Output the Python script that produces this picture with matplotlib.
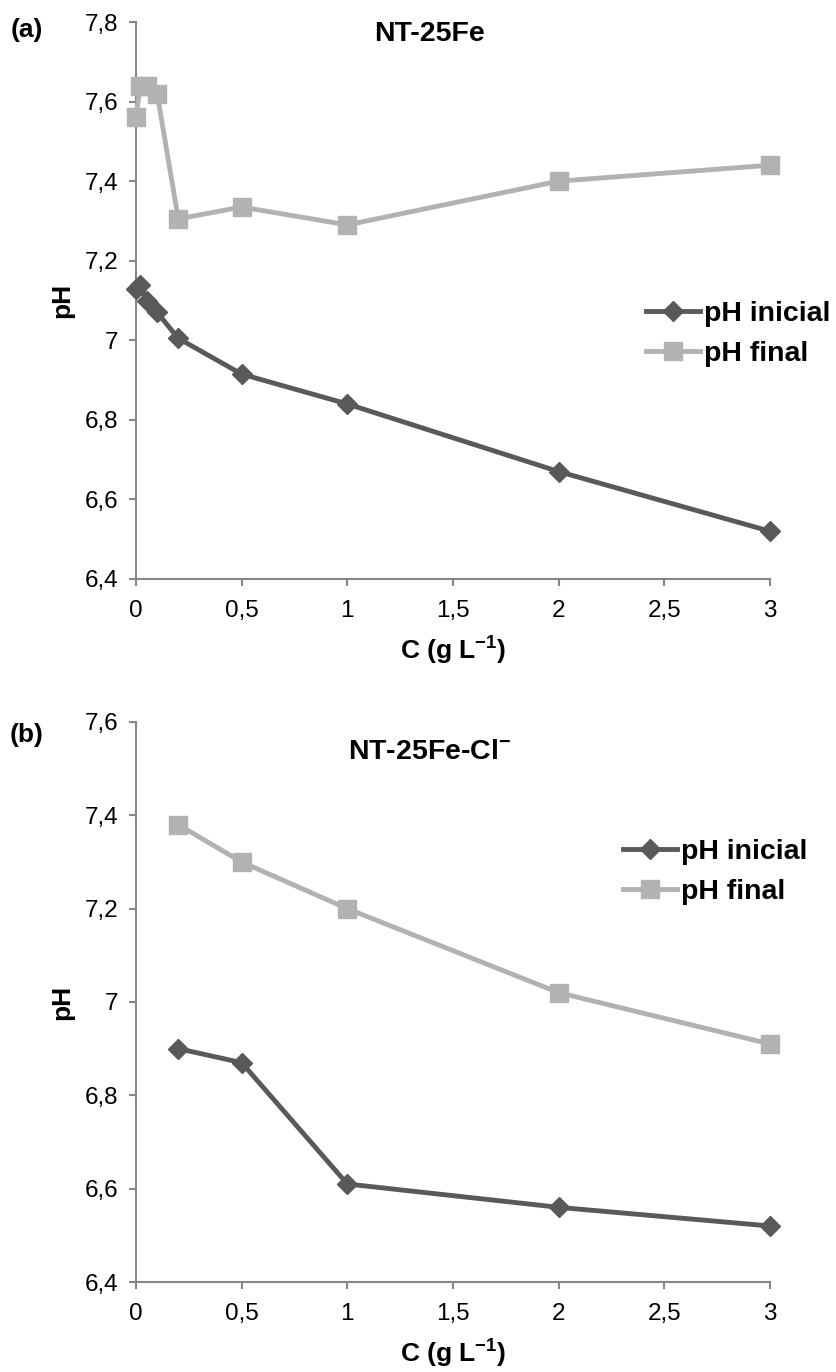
import numpy as np
import matplotlib
matplotlib.use('Agg')
import matplotlib.pyplot as plt
from matplotlib.ticker import FuncFormatter, MultipleLocator

plt.rcParams['font.family'] = ['Liberation Sans', 'DejaVu Sans']
plt.rcParams['mathtext.fontset'] = 'custom'
plt.rcParams['mathtext.rm'] = 'Liberation Sans:bold'
plt.rcParams['mathtext.it'] = 'Liberation Sans:bold'
plt.rcParams['mathtext.bf'] = 'Liberation Sans:bold'

# panel (a) NT-25Fe
c_a = [0, 0.02, 0.05, 0.1, 0.2, 0.5, 1, 2, 3]
ph_ini_a = [7.13, 7.14, 7.10, 7.07, 7.005, 6.915, 6.84, 6.67, 6.52]
ph_fin_a = [7.56, 7.64, 7.64, 7.62, 7.305, 7.335, 7.29, 7.40, 7.44]

# panel (b) NT-25Fe-Cl-
c_b = [0.2, 0.5, 1, 2, 3]
ph_ini_b = [6.90, 6.87, 6.61, 6.56, 6.52]
ph_fin_b = [7.38, 7.30, 7.20, 7.02, 6.91]

dark = '#595959'
light = '#b2b2b2'
axis_col = '#868686'

W, H = 837, 1372
fig = plt.figure(figsize=(W / 100, H / 100), dpi=100)


def comma(v, pos):
    return ('%g' % round(v, 2)).replace('.', ',')


def make_panel(box, x, ini, fin, ylim, tag, tag_y, title, title_y, leg_x, leg_y):
    ax = fig.add_axes(box)
    l1, = ax.plot(x, ini, '-D', color=dark, lw=3.5, ms=10.5, mec=dark, clip_on=False, zorder=3)
    l2, = ax.plot(x, fin, '-s', color=light, lw=3.5, ms=13.5, mec=light, clip_on=False, zorder=3)
    ax.set_xlim(0, 3)
    ax.set_ylim(*ylim)
    ax.xaxis.set_major_locator(MultipleLocator(0.5))
    ax.yaxis.set_major_locator(MultipleLocator(0.2))
    ax.xaxis.set_major_formatter(FuncFormatter(comma))
    ax.yaxis.set_major_formatter(FuncFormatter(comma))
    for s in ['top', 'right']:
        ax.spines[s].set_visible(False)
    for s in ['left', 'bottom']:
        ax.spines[s].set_color(axis_col)
        ax.spines[s].set_linewidth(1.5)
    ax.tick_params(direction='out', length=5, width=1.5, color=axis_col, labelsize=17.5)
    ax.tick_params(axis='y', pad=8)
    ax.tick_params(axis='x', pad=10)
    ax.set_xlabel('C (g L$^{\\mathregular{-1}}$)', fontsize=19, fontweight='bold', labelpad=9)
    ax.set_ylabel('pH', fontsize=19, fontweight='bold', labelpad=7)
    fig.text(27 / W, 1 - tag_y / H, tag, fontsize=19, fontweight='bold', ha='center', va='center')
    fig.text(430 / W, 1 - title_y / H, title, fontsize=20.5, fontweight='bold', ha='center', va='center')
    ax.legend([l1, l2], ['pH inicial', 'pH final'], loc='center left',
              bbox_to_anchor=(leg_x / W, 1 - leg_y / H), bbox_transform=fig.transFigure,
              frameon=False, prop={'size': 20.5, 'weight': 'bold'}, handlelength=1.9,
              handletextpad=0.15, borderpad=0, borderaxespad=0, labelspacing=0.5,
              markerscale=1.0)
    return ax


make_panel([136 / W, 1 - 579 / H, 634 / W, 557 / H], c_a, ph_ini_a, ph_fin_a, (6.4, 7.8),
           '(a)', 30, 'NT-25Fe', 34, 646, 334)
make_panel([136 / W, 1 - 1282 / H, 634 / W, 560 / H], c_b, ph_ini_b, ph_fin_b, (6.4, 7.6),
           '(b)', 735, 'NT-25Fe-Cl$^{-}$', 752, 623, 872)

fig.savefig('out.png', dpi=100)
